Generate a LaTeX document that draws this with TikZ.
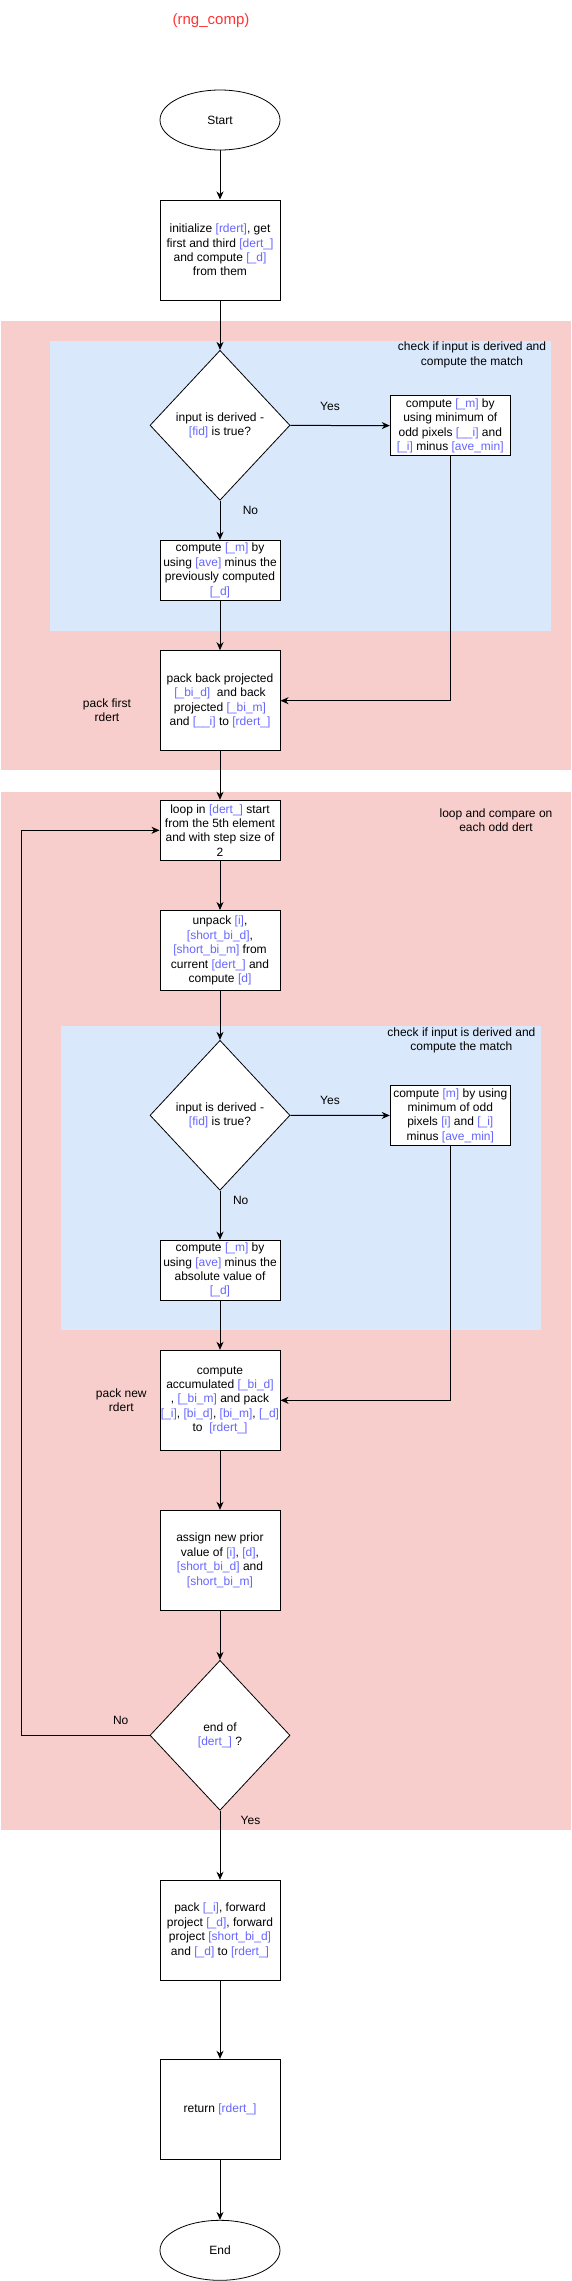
\documentclass[tikz,border=0pt]{standalone}
\usepackage{fontspec}
\setmainfont{Liberation Sans}
\usetikzlibrary{shapes.geometric,arrows.meta}

\definecolor{varblue}{HTML}{6666FF}
\definecolor{zonered}{HTML}{F8CECC}
\definecolor{zoneblue}{HTML}{DAE8FC}
\definecolor{titlered}{HTML}{FF3333}
\newcommand{\vr}[1]{\textcolor{varblue}{[#1]}}

\begin{document}
\begin{tikzpicture}[x=1pt, y=-1pt,
    every node/.style={font=\fontsize{12}{14.4}\selectfont},
    box/.style={draw, line width=1pt, fill=white, minimum width=120pt, align=center, inner sep=0pt},
    term/.style={draw, line width=0.8pt, fill=white, ellipse, minimum width=120pt, minimum height=60pt, inner sep=0pt},
    decision/.style={draw, line width=0.8pt, fill=white, diamond, minimum width=140pt, minimum height=150pt, inner sep=0pt, align=center},
    note/.style={align=center},
    flow/.style={line width=1pt, -{Stealth[length=8pt, width=7pt, inset=2.5pt]}}]
    \useasboundingbox (0,0) rectangle (571,2281);

    % --- Zones ---
    \fill[zonered] (0.5,321) rectangle (571,770);
    \fill[zoneblue] (50,340.7) rectangle (551,630.7);
    \fill[zonered] (0.5,792.3) rectangle (571,1830);
    \fill[zoneblue] (60.5,1025.7) rectangle (540.8,1330.3);

    % --- Title and start ---
    \node[font=\fontsize{15}{18}\selectfont, text=titlered] (title) at (211,21) {(rng\_comp)};
    \node[term] (start) at (220,120) {Start};
    \node[box, minimum height=100pt] (init) at (220,250)
        {initialize \vr{rdert}, get\\first and third \vr{dert\_}\\and compute \vr{\_d}\\from them};

    % --- First rdert ---
    \node[note] (chk1) at (472,355) {check if input is derived and\\compute the match};
    \node[decision] (d1) at (220,425.3) {input is derived -\\\vr{fid} is true?};
    \node[box, minimum height=60pt] (y1) at (450.3,425.7)
        {compute \vr{\_m} by\\using minimum of\\odd pixels \vr{\_\_i} and\\\vr{\_i} minus \vr{ave\_min}};
    \node (yes1) at (330,406) {Yes};
    \node (no1) at (250.5,510.7) {No};
    \node[box, minimum height=60pt] (n1) at (220,570.3)
        {compute \vr{\_m} by\\using \vr{ave} minus the\\previously computed\\\vr{\_d}};
    \node[box, minimum height=100pt] (pack1) at (220,700.7)
        {pack back projected\\\vr{\_bi\_d}\ \ and back\\projected \vr{\_bi\_m}\\and \vr{\_\_i} to \vr{rdert\_}};
    \node[note] (packlbl1) at (107,710) {pack first\\rdert};

    % --- Loop over odd dert ---
    \node[note] (looplbl) at (496,820) {loop and compare on\\each odd dert};
    \node[box, minimum height=60pt] (loop) at (220,830.3)
        {loop in \vr{dert\_} start\\from the 5th element\\and with step size of\\2};
    \node[box, minimum height=80pt] (unpack) at (220,950.5)
        {unpack \vr{i},\\\vr{short\_bi\_d},\\\vr{short\_bi\_m} from\\current \vr{dert\_} and\\compute \vr{d}};
    \node[note] (chk2) at (461.4,1040.2) {check if input is derived and\\compute the match};
    \node[decision] (d2) at (220,1115.3) {input is derived -\\\vr{fid} is true?};
    \node[box, minimum height=60pt] (y2) at (450.3,1115.5)
        {compute \vr{m} by using\\minimum of odd\\pixels \vr{i} and \vr{\_i}\\minus \vr{ave\_min}};
    \node (yes2) at (330,1100.7) {Yes};
    \node (no2) at (240.7,1200.7) {No};
    \node[box, minimum height=60pt] (n2) at (220,1270.2)
        {compute \vr{\_m} by\\using \vr{ave} minus the\\absolute value of\\\vr{\_d}};
    \node[box, minimum height=100pt] (accum) at (220,1400.3)
        {compute\\accumulated \vr{\_bi\_d}\\, \vr{\_bi\_m} and pack\\\vr{\_i}, \vr{bi\_d}, \vr{bi\_m}, \vr{\_d}\\to\ \ \vr{rdert\_}};
    \node[note] (packlbl2) at (121.3,1400.2) {pack new\\rdert};
    \node[box, minimum height=100pt] (assign) at (220,1560.3)
        {assign new prior\\value of \vr{i}, \vr{d},\\\vr{short\_bi\_d} and\\\vr{short\_bi\_m}};
    \node[decision] (dend) at (220,1735.3) {end of\\\vr{dert\_} ?};
    \node (no3) at (120.7,1720.7) {No};
    \node (yes3) at (250.5,1820.7) {Yes};
    \coordinate (back) at (21.5,1735.3);

    % --- Output ---
    \node[box, minimum height=100pt] (fpack) at (220,1930.3)
        {pack \vr{\_i}, forward\\project \vr{\_d}, forward\\project \vr{short\_bi\_d}\\and \vr{\_d} to \vr{rdert\_}};
    \node[box, minimum height=100pt] (ret) at (220,2109.3) {return \vr{rdert\_}};
    \node[term] (finish) at (220,2250.3) {End};

    % --- Connectors ---
    \draw[flow] (start) -- (init);
    \draw[flow] (init) -- (d1);
    \draw[flow] (d1) -- (y1);
    \draw[flow] (d1) -- (n1);
    \draw[flow] (n1) -- (pack1);
    \draw[flow] (y1.south) |- (pack1.east);
    \draw[flow] (pack1) -- (loop);
    \draw[flow] (loop) -- (unpack);
    \draw[flow] (unpack) -- (d2);
    \draw[flow] (d2) -- (y2);
    \draw[flow] (d2) -- (n2);
    \draw[flow] (n2) -- (accum);
    \draw[flow] (y2.south) |- (accum.east);
    \draw[flow] (accum) -- (assign);
    \draw[flow] (assign) -- (dend);
    \draw[flow] (dend.west) -- (back) |- (loop.west);
    \draw[flow] (dend) -- (fpack);
    \draw[flow] (fpack) -- (ret);
    \draw[flow] (ret) -- (finish);
\end{tikzpicture}
\end{document}
